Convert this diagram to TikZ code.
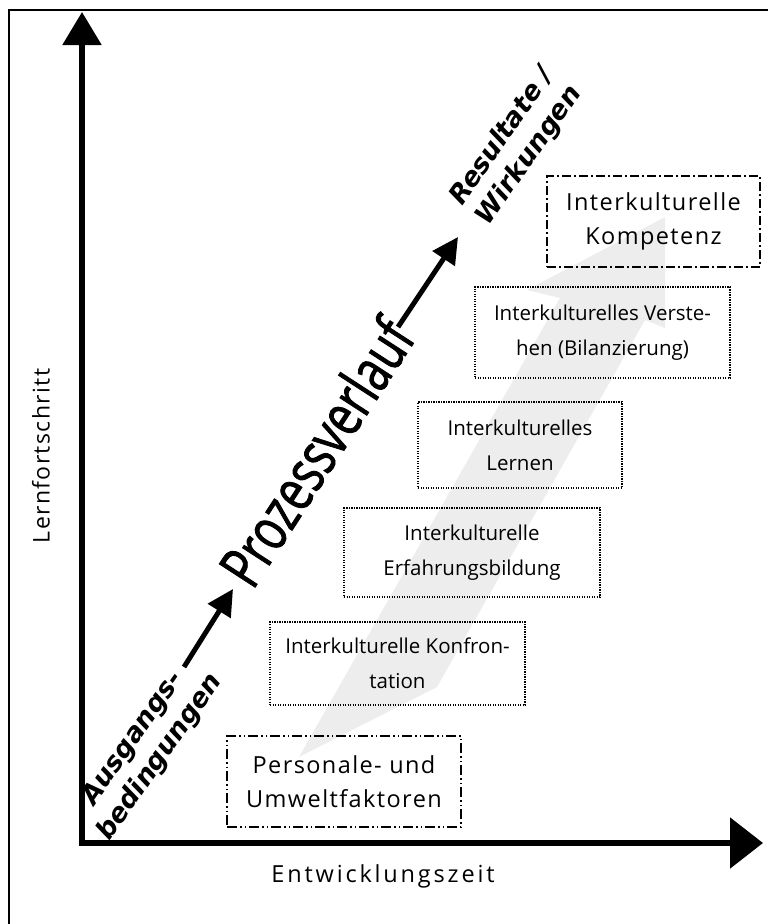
\documentclass[tikz,border=0pt]{standalone}
\usepackage{fontspec}
\setmainfont{Open Sans}
\newfontfamily\labfont{DejaVu Sans}
\newfontfamily\procfont[FakeStretch=0.74,FakeBold=1.4]{Open Sans}
\newfontfamily\spacedfont[LetterSpace=6]{Open Sans}
\newfontfamily\widefont[LetterSpace=12]{Open Sans}
\usetikzlibrary{arrows.meta}
\tikzset{
  frameline/.style={line width=2pt},
  axisline/.style={line width=5.5pt},
  blackarrow/.style={line width=5pt,-{Triangle[length=26pt,width=26pt]}},
  dotbox/.style={draw,line width=1.2pt,dash pattern=on 1.2pt off 1.3pt,minimum width=#1,inner sep=0pt,align=center,font=\fontsize{20.5}{35}\selectfont},
  dashdotdotbox/.style={draw,line width=1.2pt,dash pattern=on 10pt off 3pt on 1.5pt off 3pt on 1.5pt off 3pt,inner sep=0pt,align=center,font=\spacedfont\fontsize{23.5}{34}\selectfont},
  dashdotbox/.style={draw,line width=1.2pt,dash pattern=on 9pt off 3pt on 2pt off 3pt,inner sep=0pt,align=center,font=\spacedfont\fontsize{23.5}{34}\selectfont},
  slantlabel/.style={align=center,font=\labfont\bfseries\itshape\fontsize{26.5}{33}\selectfont},
}
\begin{document}
\begin{tikzpicture}[x=1pt,y=-1pt]
\useasboundingbox (0,0) rectangle (768,924);
\clip (0,0) rectangle (768,924);
% outer frame
\draw[frameline] (9,990) -- (9,10) -- (800,10);
% gray arrow
\fill[black!7] (299,757) -- (437,687) -- (645,320) -- (665,328) -- (665,217) -- (527,290) -- (560,298) -- cycle;
% axes
\coordinate (o) at (82,843);
\coordinate (ytip) at (82,12);
\coordinate (xtip) at (763,843);
\draw[axisline,{Triangle[length=33pt,width=38pt]}-{Triangle[length=33pt,width=50pt]}] (ytip) -- (o) -- (xtip);
\node[font=\spacedfont\fontsize{23}{26}\selectfont,rotate=90] (ylab) at (41,456) {Lernfortschritt};
\node[font=\widefont\fontsize{23.5}{26}\selectfont] (xlab) at (383,876) {Entwicklungszeit};
% boxes
\node[dashdotdotbox,minimum width=234pt,minimum height=91pt] (b1) at (344,781.5) {Personale- und\\Umweltfaktoren};
\node[dotbox=255pt,minimum height=83pt] (b2) at (397.5,663.5) {Interkulturelle Konfron-\\tation};
\node[dotbox=256pt,minimum height=89pt] (b3) at (472,552.5) {Interkulturelle\\Erfahrungsbildung};
\node[dotbox=204pt,minimum height=86pt] (b4) at (520,445) {Interkulturelles\\Lernen};
\node[dotbox=255pt,minimum height=91pt] (b5) at (602.5,332.5) {Interkulturelles Verste-\\hen (Bilanzierung)};
\node[dashdotbox,minimum width=213pt,minimum height=91pt] (b6) at (653.5,221.5) {Interkulturelle\\Kompetenz};
% process labels
\node[slantlabel,rotate=55] (ausg) at (147,748) {Ausgangs-\\bedingungen};
\node[font=\procfont\fontsize{60}{62}\selectfont,rotate=57] (proz) at (316,452) {Prozessverlauf};
\node[slantlabel,rotate=55] (res) at (516,146) {Resultate /\\Wirkungen};
% black arrows
\coordinate (a1s) at (184,667);
\coordinate (a1e) at (233,589);
\coordinate (a2s) at (398,327);
\coordinate (a2e) at (458,237);
\draw[blackarrow] (a1s) -- (a1e);
\draw[blackarrow] (a2s) -- (a2e);
\end{tikzpicture}
\end{document}
